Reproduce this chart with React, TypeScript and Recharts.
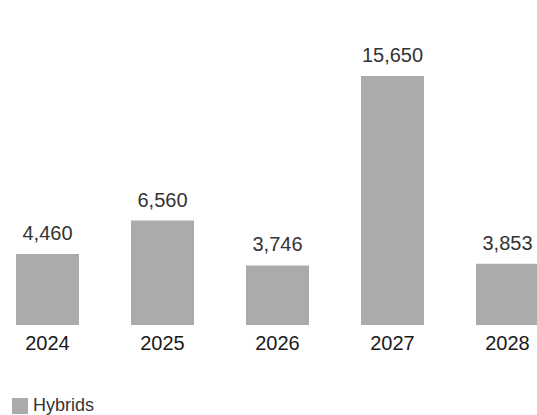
import React from "react"
import { BarChart, Bar, XAxis, YAxis, LabelList, Legend } from "recharts"

const years = ["2024", "2025", "2026", "2027", "2028"]
const hybrids = [4460, 6560, 3746, 15650, 3853]

const data = years.map((year, i) => ({ year, hybrids: hybrids[i] }))

const FONT = '"Liberation Sans", Arial, Helvetica, sans-serif'
const GREY = "#ababab"

function LegendContent() {
  return (
    <div style={{ display: "flex", alignItems: "center", fontFamily: FONT, fontSize: 18, color: "#333" }}>
      <span style={{ display: "inline-block", width: 16, height: 16, background: GREY, marginRight: 5 }} />
      <span>Hybrids</span>
    </div>
  )
}

export default function App() {
  return (
    <div style={{ position: "absolute", left: 0, top: 0, width: 537, height: 415, overflow: "hidden", background: "#fff" }}>
      <div style={{ position: "absolute", left: -10, top: 0 }}>
        <BarChart
          width={575}
          height={415}
          data={data}
          margin={{ top: 38.6, right: 0, bottom: 60, left: 0 }}
          barCategoryGap={26}
        >
          <XAxis
            dataKey="year"
            height={30}
            axisLine={false}
            tickLine={false}
            tickSize={0}
            tickMargin={11}
            tick={{ fontFamily: FONT, fontSize: 20, fill: "#1a1a1a" }}
            interval={0}
          />
          <YAxis hide domain={[0, 18000]} />
          <Legend
            layout="horizontal"
            verticalAlign="middle"
            align="center"
            content={() => <LegendContent />}
            wrapperStyle={{ position: "absolute", left: 22, top: 395, width: 200 }}
          />
          <Bar dataKey="hybrids" name="Hybrids" fill={GREY} isAnimationActive={false}>
            <LabelList
              dataKey="hybrids"
              position="top"
              offset={14}
              formatter={(v: any) => Number(v).toLocaleString("en-US")}
              style={{ fontFamily: FONT, fontSize: 20, fill: "#333" }}
            />
          </Bar>
        </BarChart>
      </div>
    </div>
  )
}
